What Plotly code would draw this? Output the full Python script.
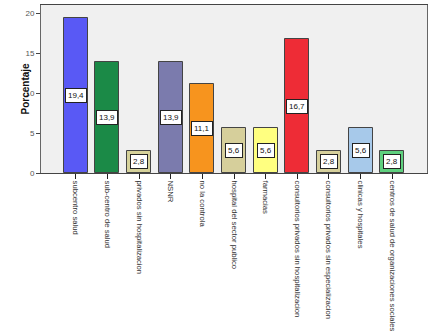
import plotly.graph_objects as go

categories = [
    "subcentro salud",
    "sub-centro de salud",
    "privados sin hospitalizacion",
    "NSNR",
    "no la controla",
    "hospital del sector publico",
    "farmacias",
    "consultorios privados sin hospitalizacion",
    "consultorios privados sin especializacion",
    "clinicas y hospitales",
    "centros de salud de organizaciones sociales",
]
values = [19.4, 13.9, 2.8, 13.9, 11.1, 5.6, 5.6, 16.7, 2.8, 5.6, 2.8]
colors = ["#5959f5", "#1b8a47", "#d6d29a", "#7b7bad", "#f7941e", "#d6cf9b",
          "#ffff80", "#ee2c36", "#d6d09c", "#a7c9ea", "#5ed07e"]
y_ticks = [0, 5, 10, 15, 20]

xs = list(range(len(categories)))

fig = go.Figure(go.Bar(
    x=xs, y=values,
    marker=dict(color=colors, line=dict(color="#444444", width=1)),
    width=0.76,
    hoverinfo="skip",
))

for x, v in zip(xs, values):
    fig.add_annotation(
        x=x, y=v / 2, text=f"{v:.1f}".replace(".", ","),
        showarrow=False, bgcolor="white", bordercolor="#222222", borderwidth=1,
        borderpad=2, font=dict(family="Arial, Liberation Sans", size=8, color="#111111"),
    )

fig.add_annotation(
    xref="paper", yref="paper", x=(17 - 41) / 386, y=0.5,
    text="<b>Porcentaje</b>", textangle=-90, showarrow=False,
    font=dict(family="Arial, Liberation Sans", size=10, color="#111111"),
)

fig.update_layout(
    width=433, height=331,
    margin=dict(l=41, r=6, t=5, b=158, autoexpand=False),
    paper_bgcolor="white",
    plot_bgcolor="#f0f0f0",
    showlegend=False,
    bargap=0,
    font=dict(family="Arial, Liberation Sans", size=8, color="#333333"),
)
fig.update_xaxes(
    range=[-1.1, 11.1], automargin=False,
    tickmode="array", tickvals=xs, ticktext=categories,
    tickangle=90, ticks="outside", ticklen=5, tickcolor="#222222",
    showline=True, linecolor="#444444", linewidth=1, mirror=True,
    showgrid=False, zeroline=False,
    tickfont=dict(size=7.7, color="#333333"),
)
fig.update_yaxes(
    range=[0, 21], automargin=False,
    tickmode="array", tickvals=y_ticks,
    ticks="outside", ticklen=4, tickcolor="#444444",
    showline=True, linecolor="#666666", linewidth=1, mirror=True,
    showgrid=False, zeroline=False,
    tickfont=dict(size=8, color="#555555"),
)

fig.write_html("out.html")
